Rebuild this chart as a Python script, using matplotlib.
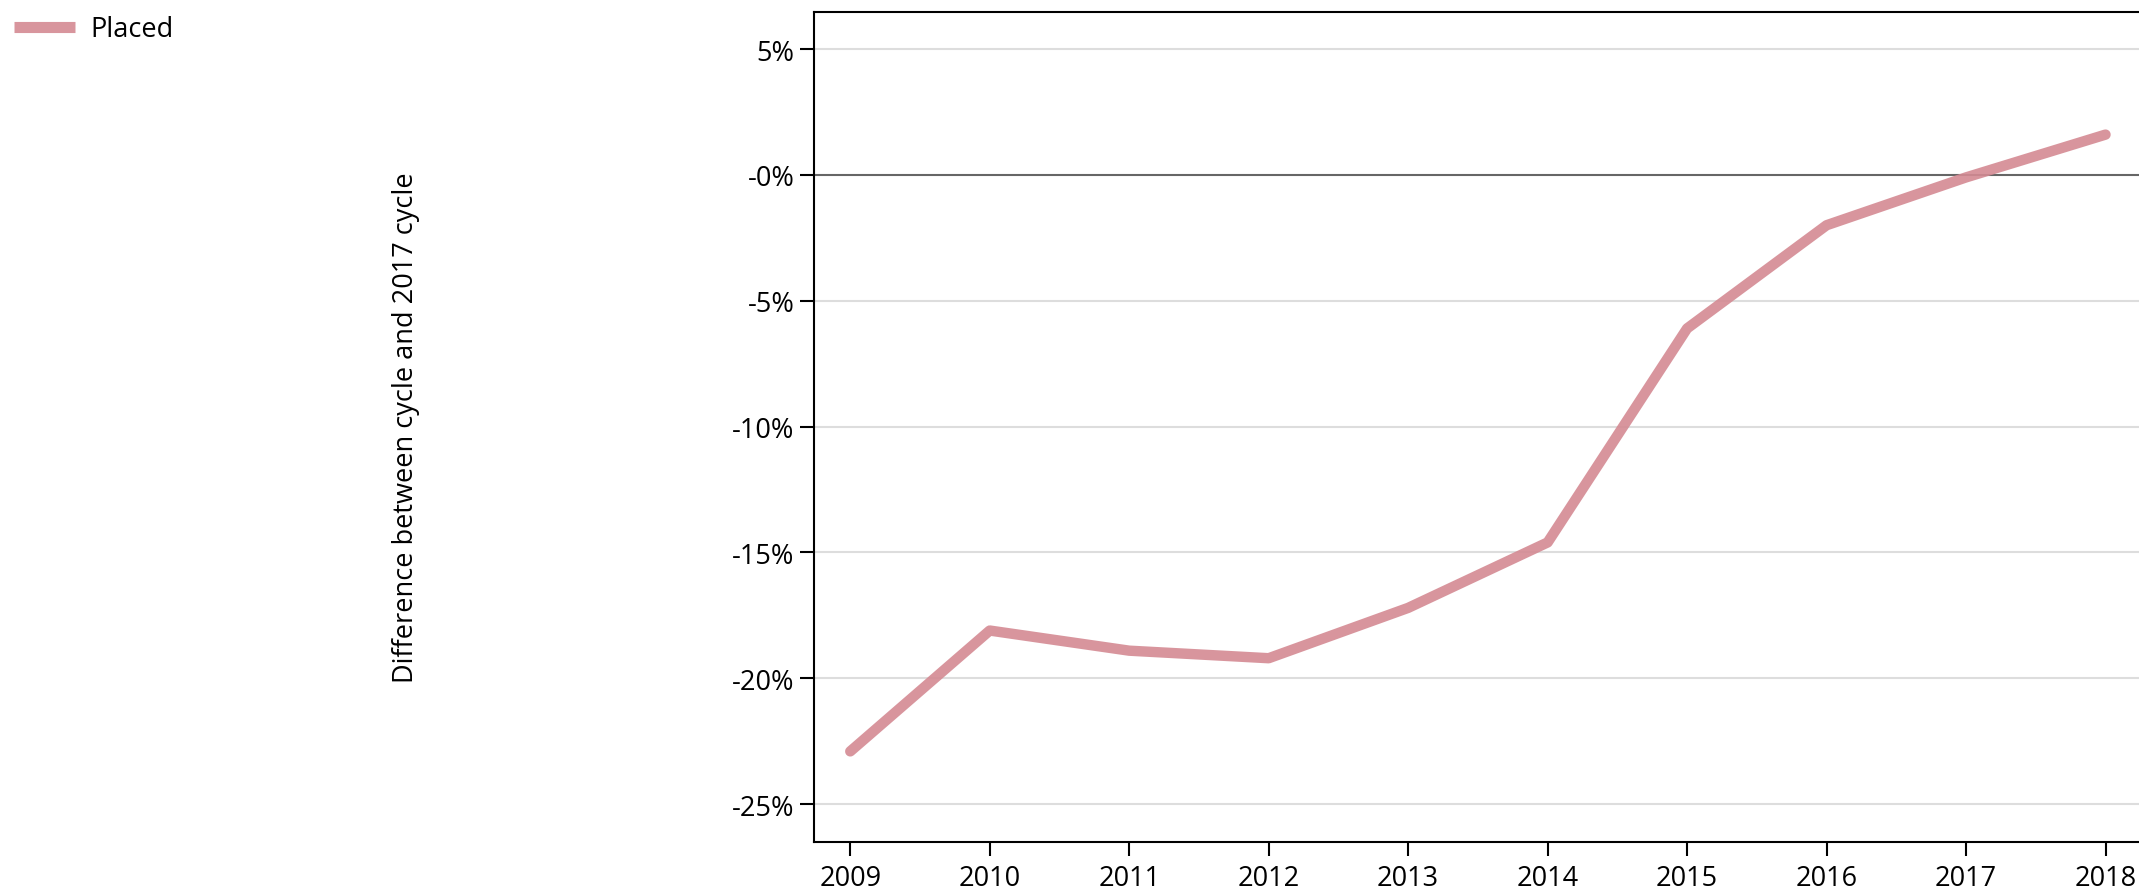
import matplotlib
matplotlib.use("Agg")
import matplotlib.pyplot as plt

years = [2009, 2010, 2011, 2012, 2013, 2014, 2015, 2016, 2017, 2018]
placed = [-22.9, -18.1, -18.9, -19.2, -17.2, -14.6, -6.1, -2.0, -0.1, 1.6]
yticks = [5, 0, -5, -10, -15, -20, -25]
ytick_labels = ["5%", "-0%", "-5%", "-10%", "-15%", "-20%", "-25%"]

plt.rcParams['font.family'] = ['Open Sans', 'DejaVu Sans']
W, H = 2139, 895
L = 814
fig = plt.figure(figsize=(W/100, H/100), dpi=100)
ax = fig.add_axes([L/W, 1-843/H, (W-L)/W, (843-13)/H])
ax.set_xlim(2008.74, 2018.24)
ax.set_ylim(-26.5, 6.47)
ax.set_yticks(yticks)
ax.set_yticklabels(ytick_labels)
ax.set_xticks(years)
ax.set_xticklabels([str(y) for y in years])
ax.tick_params(axis='both', labelsize=19.5)
ax.tick_params(axis='x', length=10, width=1.5, pad=6)
ax.tick_params(axis='y', length=10, width=1.5, pad=4)
for y in yticks:
    if y != 0:
        ax.axhline(y, color='#dddddd', lw=1.5, zorder=0)
ax.axhline(0, color='#666666', lw=1.5, zorder=1)
ax.plot(years, placed, color='#d48a93', alpha=0.9, lw=7.5, solid_capstyle='round',
        solid_joinstyle='round', label='Placed', zorder=3)
ax.spines['right'].set_visible(False)
for s in ['left', 'top', 'bottom']:
    ax.spines[s].set_linewidth(1.5)
ax.set_ylabel('Difference between cycle and 2017 cycle', fontsize=19.5, labelpad=0)
ax.yaxis.set_label_coords((420-L)/(W-L), 0.5)
leg = fig.legend(loc='upper left', bbox_to_anchor=(-0.001, 1.0), frameon=False, fontsize=19.5,
                 handlelength=2.25, handletextpad=0.55, borderaxespad=0.2)
for h in leg.get_lines():
    h.set_linewidth(8)
    h.set_solid_capstyle('butt')
fig.savefig('out.png', dpi=100)
